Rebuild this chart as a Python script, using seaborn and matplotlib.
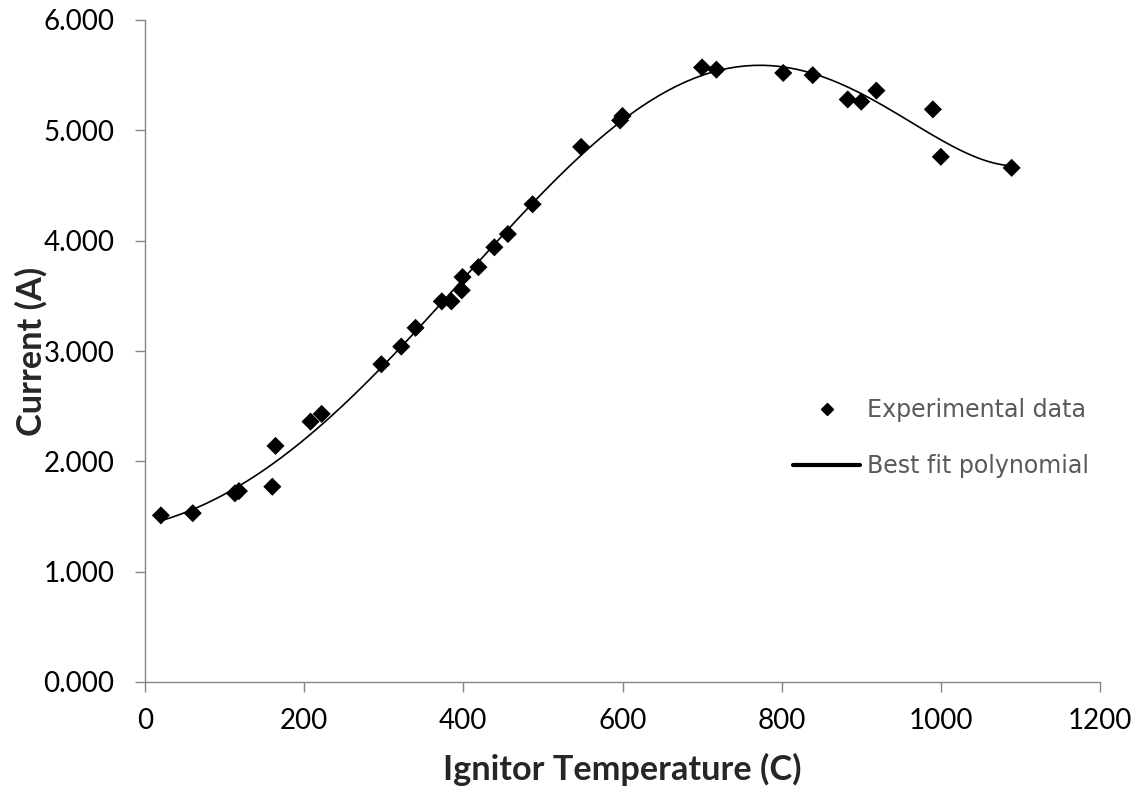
import matplotlib
matplotlib.use("Agg")
import matplotlib.pyplot as plt
import seaborn as sns
import numpy as np
import pandas as pd
from matplotlib.lines import Line2D
from matplotlib.ticker import FormatStrFormatter

temperature = [20, 60, 113, 118, 160, 164, 208, 222, 297, 322, 340, 373, 385, 398, 399,
               419, 439, 456, 487, 548, 597, 600, 700, 718, 802, 839, 883, 900, 919,
               990, 1000, 1089]
current = [1.51, 1.53, 1.71, 1.73, 1.77, 2.14, 2.36, 2.43, 2.88, 3.04, 3.21, 3.45, 3.45,
           3.55, 3.67, 3.76, 3.94, 4.06, 4.33, 4.85, 5.09, 5.13, 5.57, 5.55, 5.52, 5.50,
           5.28, 5.26, 5.36, 5.19, 4.76, 4.66]
poly_order = 6
x_ticks = [0, 200, 400, 600, 800, 1000, 1200]
y_ticks = [0, 1, 2, 3, 4, 5, 6]
legend_labels = ["Experimental data", "Best fit polynomial"]
x_label = "Ignitor Temperature (C)"
y_label = "Current (A)"

df = pd.DataFrame({x_label: temperature, y_label: current})

sns.set_style("ticks")
plt.rcParams["font.family"] = ["Lato", "DejaVu Sans"]

DPI = 100
fig = plt.figure(figsize=(11.43, 7.97), dpi=DPI)
renderer = fig.canvas.get_renderer()


def fit_size(text, target_px, **kw):
    t = fig.text(0, 0, text, fontsize=20, **kw)
    bb = t.get_window_extent(renderer)
    t.remove()
    size = 20 * target_px / bb.width
    return size, bb.height * size / 20


tick_fs, _ = fit_size("6.000", 71)
label_fs, _ = fit_size(x_label, 359, fontweight="bold")
leg_fs, leg_h = fit_size(legend_labels[0], 219, family=["DejaVu Sans"])
leg_px = leg_fs * DPI / 72

AX_L, AX_R, AX_T, AX_B = 145, 1100, 20, 682
W, H = 1143, 797
ax = fig.add_axes([AX_L / W, 1 - AX_B / H, (AX_R - AX_L) / W, (AX_B - AX_T) / H])

sns.regplot(data=df, x=x_label, y=y_label, order=poly_order,
            ci=None, ax=ax, marker="D",
            scatter_kws={"s": 85, "color": "black", "alpha": 1, "edgecolor": "none",
                         "linewidths": 0, "zorder": 3},
            line_kws={"color": "black", "linewidth": 1.2, "zorder": 2})

ax.set_xlim(0, 1200)
ax.set_ylim(0, 6)
ax.set_xticks(x_ticks)
ax.set_yticks(y_ticks)
ax.yaxis.set_major_formatter(FormatStrFormatter("%.3f"))
for s in ["top", "right"]:
    ax.spines[s].set_visible(False)
for s in ["left", "bottom"]:
    ax.spines[s].set_color("#868686")
    ax.spines[s].set_linewidth(1.0)
ax.tick_params(axis="both", direction="out", length=7, width=1.0, color="#868686",
               labelsize=tick_fs, labelcolor="black")
ax.tick_params(axis="x", pad=12)
ax.tick_params(axis="y", pad=15)
ax.set_xlabel(x_label, fontsize=label_fs, fontweight="bold")
ax.set_ylabel(y_label, fontsize=label_fs, fontweight="bold")
ax.xaxis.set_label_coords(0.5, (AX_B - 753) / (AX_B - AX_T))
ax.yaxis.set_label_coords((48 - AX_L) / (AX_R - AX_L), 0.5)

handles = [
    Line2D([], [], marker="D", color="black", linestyle="none", markersize=6.5),
    Line2D([], [], color="black", linewidth=3.0),
]
leg = ax.legend(handles, legend_labels,
                loc="center left",
                bbox_to_anchor=((793 - AX_L) / (AX_R - AX_L), (AX_B - 438) / (AX_B - AX_T)),
                frameon=False, borderpad=0, borderaxespad=0,
                prop={"family": ["DejaVu Sans"], "size": leg_fs},
                handlelength=67 / leg_px, handletextpad=7 / leg_px,
                labelspacing=(56 - leg_h) / leg_px,
                labelcolor="#595959")

fig.savefig("out.png", dpi=DPI)
